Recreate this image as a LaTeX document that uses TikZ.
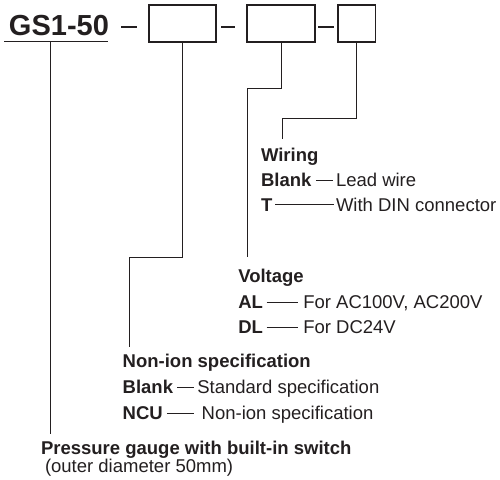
\documentclass[tikz,border=0pt]{standalone}
\usepackage{fontspec}
\setmainfont{Liberation Sans}
\usetikzlibrary{calc}
\definecolor{ink}{HTML}{231F20}
\begin{document}
\begin{tikzpicture}[x=1pt,y=-1pt,
  txt/.style={anchor=base west,inner sep=0pt,outer sep=0pt,text=ink,font=\fontsize{18.5}{20}\selectfont},
  bold/.style={txt,font=\fontsize{18.5}{20}\selectfont\bfseries},
  codebox/.style={draw=ink,line width=1.3pt,inner sep=0pt,outer sep=0pt,anchor=north west,minimum height=37pt},
  lead/.style={draw=ink,line width=0.9pt},
  sepline/.style={draw=ink,line width=1.8pt},
  dashln/.style={draw=ink,line width=0.9pt}]
\useasboundingbox (0,0) rectangle (500,479);

% ---- model code row
\node[txt,font=\fontsize{29}{30}\selectfont\bfseries] (gs) at (9,35) {GS1-50};
\node[codebox,minimum width=67pt] (b1) at (149,5) {};
\node[codebox,minimum width=68pt] (b2) at (247,5) {};
\node[codebox,minimum width=37.5pt] (b3) at (338,5) {};
\draw[sepline] (121,27) -- (137,27);
\draw[sepline] (221,27) -- (235,27);
\draw[sepline] (318,27) -- (334,27);
\coordinate (ulA) at (4,41.7);
\coordinate (ulB) at (108,41.7);
\draw[draw=ink,line width=1.5pt] (ulA) -- (ulB);

% ---- wiring
\node[bold] (wir) at (261,161.5) {Wiring};
\node[bold] (wbl) at (261,186.5) {Blank};
\node[txt]  (wld) at (336,186.5) {Lead wire};
\node[bold] (wt)  at (261,211) {T};
\node[txt]  (wdin) at (336,211) {With DIN connector};
\draw[dashln] ([xshift=4.5pt,yshift=6.5pt]wbl.base east) -- ([xshift=-3.3pt,yshift=6.5pt]wld.base west);
\draw[dashln] ([xshift=3pt,yshift=6.5pt]wt.base east) -- ([xshift=-2pt,yshift=6.5pt]wdin.base west);

% ---- voltage
\node[bold] (vol) at (238.3,282) {Voltage};
\node[bold] (val) at (238.3,308) {AL};
\node[txt]  (vac) at (303.3,308) {For AC100V, AC200V};
\node[bold] (vdl) at (238.3,333.5) {DL};
\node[txt]  (vdc) at (303.3,333.5) {For DC24V};
\draw[dashln] ([xshift=3.7pt,yshift=6pt]val.base east) -- ([xshift=-5pt,yshift=6pt]vac.base west);
\draw[dashln] ([xshift=3.7pt,yshift=6pt]vdl.base east) -- ([xshift=-5pt,yshift=6pt]vdc.base west);

% ---- non-ion
\node[bold] (non) at (122.7,367) {Non-ion specification};
\node[bold] (nbl) at (122.7,393.8) {Blank};
\node[txt]  (nst) at (197.3,393.8) {Standard specification};
\node[bold] (ncu) at (122.7,419.8) {NCU};
\node[txt]  (nni) at (201.7,419.8) {Non-ion specification};
\draw[dashln] ([xshift=4.3pt,yshift=6.5pt]nbl.base east) -- ([xshift=-3.3pt,yshift=6.5pt]nst.base west);
\draw[dashln] ([xshift=4pt,yshift=6pt]ncu.base east) -- ([xshift=-7.7pt,yshift=6pt]nni.base west);

% ---- gauge
\node[bold] (pg) at (41,454.5) {Pressure gauge with built-in switch};
\node[txt]  (od) at (45,472.5) {(outer diameter 50mm)};

% ---- leader lines
\coordinate (e0) at (50,434);
\coordinate (e1) at (129,347);
\coordinate (e2) at (247,257);
\coordinate (e3) at (282,139);
\draw[lead] (ulA -| e0) -- (e0);
\draw[lead] (b1.south) -- (b1.south |- 0,257) -| (e1);
\draw[lead] (b2.south) -- (b2.south |- 0,88) -| (e2);
\draw[lead] (b3.south) -- (b3.south |- 0,118) -| (e3);
\end{tikzpicture}
\end{document}
